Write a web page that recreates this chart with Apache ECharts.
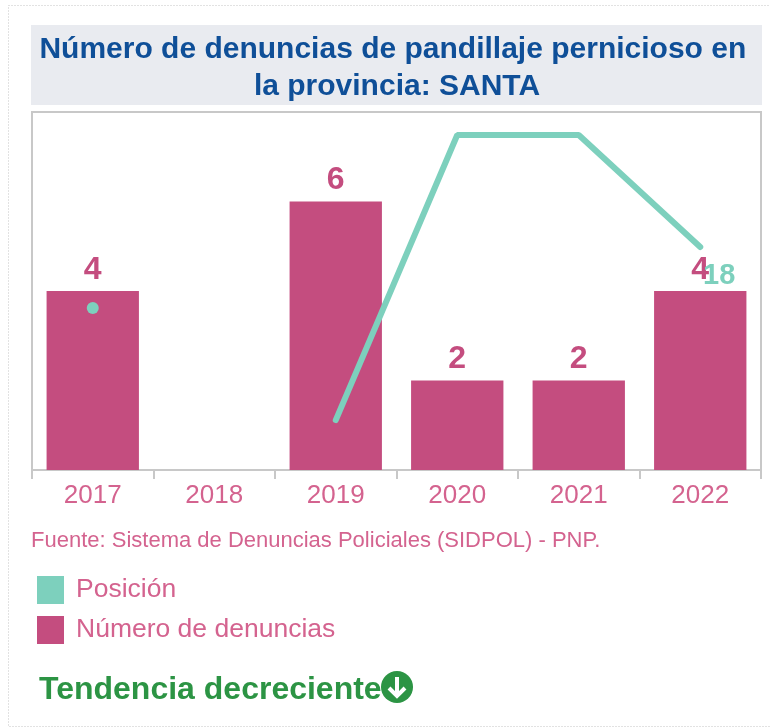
<!DOCTYPE html>
<html>
<head>
<meta charset="utf-8">
<style>html,body{margin:0;padding:0;background:#fff}#c{width:770px;height:728px}</style>
<script src="https://cdn.jsdelivr.net/npm/echarts@6/dist/echarts.min.js"></script>
</head>
<body>
<div id="c"></div>
<script>
const years = ['2017','2018','2019','2020','2021','2022'];
const denuncias = [4, null, 6, 2, 2, 4];
const posicion = [24, null, 35, 7, 7, 18];
const labelledPosition = '2022';
const chartTitle = 'Número de denuncias de pandillaje pernicioso en \nla provincia: SANTA';
const sourceText = 'Fuente: Sistema de Denuncias Policiales (SIDPOL) - PNP.';
const trendText = 'Tendencia decreciente';
const seriesNames = ['Posición', 'Número de denuncias'];

const TEAL = '#7dd0bd', PINK = '#c44d7f', SOFT = '#d4638f', GREEN = '#2c9444';
const font = '"Liberation Sans", Arial, sans-serif';

const posData = posicion.map((v, i) => {
  const item = { value: v };
  if (years[i] === labelledPosition) {
    item.label = { show: true, position: 'inside', offset: [19, 29], formatter: '{c}', color: TEAL, fontSize: 29, fontWeight: 'bold', fontFamily: font };
  }
  return item;
});

const chart = echarts.init(document.getElementById('c'), null, { renderer: 'canvas' });
chart.setOption({
  animation: false,
  backgroundColor: '#fff',
  title: {
    text: chartTitle, left: 392, top: 26, textAlign: 'center',
    textStyle: { color: '#0f4f98', fontSize: 30, fontWeight: 'bold', fontFamily: font, lineHeight: 37 }
  },
  grid: { left: 32, right: 9, top: 112, height: 358, show: true, borderColor: '#c8c8c8', borderWidth: 2, backgroundColor: 'transparent' },
  legend: {
    orient: 'vertical', left: 32, top: 571, itemWidth: 27, itemHeight: 28, itemGap: 12, selectedMode: false,
    textStyle: { color: SOFT, fontSize: 26.5, fontFamily: font, padding: [4, 0, 0, 7] },
    data: [
      { name: seriesNames[0], icon: 'rect', itemStyle: { color: TEAL } },
      { name: seriesNames[1], icon: 'rect', itemStyle: { color: PINK } }
    ]
  },
  xAxis: {
    type: 'category', data: years, boundaryGap: true,
    axisLine: { lineStyle: { color: '#c8c8c8', width: 2 } },
    axisTick: { show: true, alignWithLabel: false, length: 9, lineStyle: { color: '#c8c8c8', width: 2 } },
    axisLabel: { color: SOFT, fontSize: 26, fontFamily: font, margin: 13 }
  },
  yAxis: [
    { type: 'value', min: 0, max: 8, show: false, splitLine: { show: false } },
    { type: 'value', min: 4.74, max: 39.9, inverse: true, show: false, splitLine: { show: false } }
  ],
  series: [
    {
      name: seriesNames[1], type: 'bar', data: denuncias, barWidth: '76%', yAxisIndex: 0,
      itemStyle: { color: PINK },
      label: { show: true, position: 'top', distance: 5, color: PINK, fontSize: 32, fontWeight: 'bold', fontFamily: font }
    },
    {
      name: seriesNames[0], type: 'line', data: posData, yAxisIndex: 1, z: 3,
      connectNulls: false, showSymbol: true, symbol: 'circle',
      symbolSize: (v, p) => (posicion[p.dataIndex - 1] == null && posicion[p.dataIndex + 1] == null) ? 12 : 1,
      lineStyle: { color: TEAL, width: 6, cap: 'round' },
      itemStyle: { color: TEAL },
      label: { show: false }
    }
  ],
  graphic: [
    { type: 'rect', z: -10, silent: true, shape: { x: 31, y: 25, width: 731, height: 80 }, style: { fill: '#e9ebf0' } },
    { type: 'rect', z: -10, silent: true, shape: { x: 8.5, y: 5.5, width: 800, height: 721 }, style: { fill: null, stroke: '#c4c4c4', lineWidth: 1, lineDash: [1, 2] } },
    { type: 'text', left: 31, top: 530, style: { text: sourceText, fill: SOFT, fontSize: 22, fontFamily: font } },
    { type: 'text', left: 39, top: 674, style: { text: trendText, fill: GREEN, fontSize: 32, fontWeight: 'bold', fontFamily: font } },
    { type: 'circle', shape: { cx: 397, cy: 687, r: 16 }, style: { fill: GREEN } },
    { type: 'polyline', shape: { points: [[397, 677], [397, 696]] }, style: { stroke: '#fff', lineWidth: 4, fill: null } },
    { type: 'polyline', shape: { points: [[389, 688], [397, 696], [405, 688]] }, style: { stroke: '#fff', lineWidth: 4, fill: null } }
  ]
});
</script>
</body>
</html>
